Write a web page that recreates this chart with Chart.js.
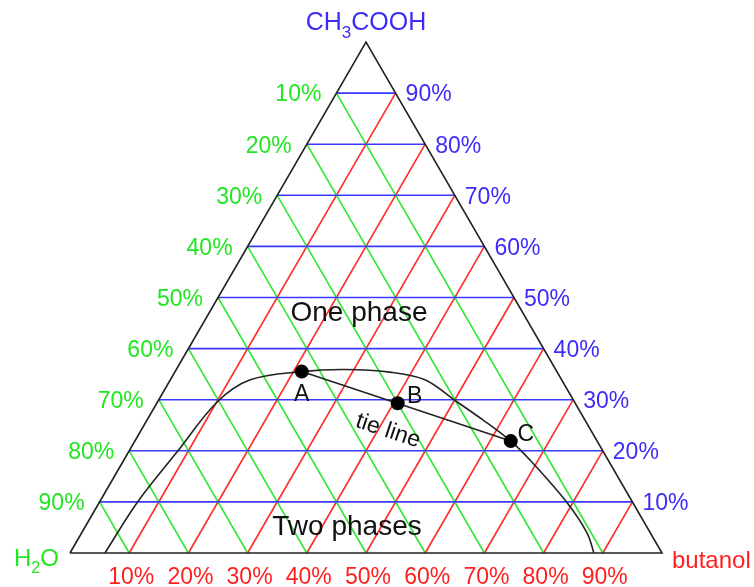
<!DOCTYPE html>
<html>
<head>
<meta charset="utf-8">
<title>Ternary diagram: water / acetic acid / butanol</title>
<script src="https://cdn.jsdelivr.net/npm/chart.js@4.4.1/dist/chart.umd.min.js"></script>
<style>
  html, body { margin: 0; padding: 0; background: #ffffff; }
  #wrap { width: 754px; height: 587px; }
</style>
</head>
<body>
<div id="wrap"><canvas id="chart" width="754" height="587"></canvas></div>
<script>
// Grid levels (percent) for each of the three components
const gridPercents = [10, 20, 30, 40, 50, 60, 70, 80, 90];
const acidTickLabels = ['10%', '20%', '30%', '40%', '50%', '60%', '70%', '80%', '90%'];
const waterTickLabels = ['10%', '20%', '30%', '40%', '50%', '60%', '70%', '80%', '90%'];
const butanolTickLabels = ['10%', '20%', '30%', '40%', '50%', '60%', '70%', '80%', '90%'];

// Binodal (solubility) curve: acetic acid % and butanol % (water is the rest)
const binodalAcid    = [0,   9.8, 19.8, 29.6, 33.9, 35.5, 35.9, 35.4, 33.9, 29.8, 26.0, 21.9, 18.2, 9.8, 3.9, 0];
const binodalButanol = [5.9, 6.4,  8.2, 10.1, 13.5, 21.4, 28.5, 36.3, 43.0, 50.2, 56.8, 63.5, 68.6, 79.1, 85.4, 88.5];

// Tie line points A, B, C
const tieNames   = ['A', 'B', 'C'];
const tieAcid    = [35.5, 29.3, 21.9];
const tieButanol = [21.4, 40.7, 63.5];

const BLUE = '#3d2cf5';
const GREEN = '#22e622';
const RED = '#ff1f1f';
const LINE_BLUE = '#3a3aff';
const LINE_GREEN = '#33e633';
const LINE_RED = '#ff2a2a';

const H = Math.sqrt(3) / 2;
// ternary composition (acid %, butanol %) -> plane coordinates
function toXY(acid, butanol) {
  return { x: (butanol + acid / 2) / 100, y: (acid / 100) * H };
}

function segment(p, q, color, order) {
  return {
    data: [p, q], showLine: true, borderColor: color, borderWidth: 1.6,
    pointRadius: 0, fill: false, clip: false, order: order
  };
}

const datasets = [];

// Tie line points
datasets.push({
  data: tieAcid.map((a, i) => toXY(a, tieButanol[i])),
  showLine: false, pointRadius: 7, pointBackgroundColor: '#000', pointBorderColor: '#000',
  pointBorderWidth: 0, clip: false, order: 0
});
// Tie line
datasets.push({
  data: [toXY(tieAcid[0], tieButanol[0]), toXY(tieAcid[2], tieButanol[2])],
  showLine: true, borderColor: '#222', borderWidth: 1.6, pointRadius: 0, clip: false, order: 1
});
// Binodal curve
datasets.push({
  data: binodalAcid.map((a, i) => toXY(a, binodalButanol[i])),
  showLine: true, borderColor: '#222', borderWidth: 1.6, pointRadius: 0,
  tension: 0.35, clip: false, order: 2
});
// Triangle outline
datasets.push({
  data: [toXY(0, 0), toXY(0, 100), toXY(100, 0), toXY(0, 0)],
  showLine: true, borderColor: '#222', borderWidth: 1.6, pointRadius: 0, clip: false, order: 3
});
// Constant acetic acid (horizontal, blue)
gridPercents.forEach(p => {
  datasets.push(segment(toXY(p, 0), toXY(p, 100 - p), LINE_BLUE, 4));
});
// Constant water (parallel to right side, green)
gridPercents.forEach(p => {
  datasets.push(segment(toXY(100 - p, 0), toXY(0, 100 - p), LINE_GREEN, 5));
});
// Constant butanol (parallel to left side, red)
gridPercents.forEach(p => {
  datasets.push(segment(toXY(0, p), toXY(100 - p, p), LINE_RED, 6));
});

const FONT = '"Liberation Sans", Arial, sans-serif';

function drawSub(ctx, parts, x, y, size, color, align) {
  // parts: [[text, isSubscript], ...]
  ctx.save();
  ctx.fillStyle = color;
  ctx.textBaseline = 'alphabetic';
  ctx.textAlign = 'left';
  let total = 0;
  parts.forEach(([t, sub]) => {
    ctx.font = (sub ? Math.round(size * 0.68) : size) + 'px ' + FONT;
    total += ctx.measureText(t).width;
  });
  let cx = align === 'center' ? x - total / 2 : (align === 'right' ? x - total : x);
  parts.forEach(([t, sub]) => {
    ctx.font = (sub ? Math.round(size * 0.68) : size) + 'px ' + FONT;
    ctx.fillText(t, cx, sub ? y + size * 0.3 : y);
    cx += ctx.measureText(t).width;
  });
  ctx.restore();
}

const labelsPlugin = {
  id: 'ternaryLabels',
  afterDatasetsDraw(chart) {
    const ctx = chart.ctx;
    const sx = chart.scales.x, sy = chart.scales.y;
    const px = (pt) => ({ x: sx.getPixelForValue(pt.x), y: sy.getPixelForValue(pt.y) });
    ctx.save();
    ctx.textBaseline = 'middle';
    ctx.font = '23px ' + FONT;

    // water ticks on the left side
    ctx.fillStyle = GREEN;
    ctx.textAlign = 'right';
    gridPercents.forEach((p, i) => {
      const q = px(toXY(100 - p, 0));
      ctx.fillText(waterTickLabels[i], q.x - 15, q.y + 2);
    });
    // acetic acid ticks on the right side
    ctx.fillStyle = BLUE;
    ctx.textAlign = 'left';
    gridPercents.forEach((p, i) => {
      const q = px(toXY(p, 100 - p));
      ctx.fillText(acidTickLabels[i], q.x + 10, q.y + 2);
    });
    // butanol ticks along the base
    ctx.fillStyle = RED;
    ctx.textAlign = 'center';
    gridPercents.forEach((p, i) => {
      const q = px(toXY(0, p));
      ctx.fillText(butanolTickLabels[i], q.x + 2, q.y + 25);
    });

    // corner names
    const top = px(toXY(100, 0));
    drawSub(ctx, [['CH', false], ['3', true], ['COOH', false]], top.x, top.y - 12, 25, BLUE, 'center');
    const left = px(toXY(0, 0));
    drawSub(ctx, [['H', false], ['2', true], ['O', false]], left.x - 56, left.y + 13, 24, GREEN, 'left');
    const right = px(toXY(0, 100));
    ctx.fillStyle = RED;
    ctx.textAlign = 'left';
    ctx.font = '24px ' + FONT;
    ctx.fillText('butanol', right.x + 10, right.y + 8);

    // region names
    ctx.fillStyle = '#111';
    ctx.textAlign = 'center';
    ctx.font = '28px ' + FONT;
    ctx.fillText('One phase', 359, 313);
    ctx.fillText('Two phases', 347, 527);

    // tie point names
    ctx.font = '23px ' + FONT;
    const offs = [[0, 23], [17, -7], [15, -6]];
    tieNames.forEach((n, i) => {
      const q = px(toXY(tieAcid[i], tieButanol[i]));
      ctx.fillText(n, q.x + offs[i][0], q.y + offs[i][1]);
    });

    // tie line caption, rotated along the line
    const a = px(toXY(tieAcid[0], tieButanol[0]));
    const c = px(toXY(tieAcid[2], tieButanol[2]));
    const ang = Math.atan2(c.y - a.y, c.x - a.x);
    ctx.save();
    ctx.translate(388, 431);
    ctx.rotate(ang);
    ctx.font = '23px ' + FONT;
    ctx.fillText('tie line', 0, 0);
    ctx.restore();

    ctx.restore();
  }
};

const whiteBg = {
  id: 'whiteBg',
  beforeDraw(chart) {
    const ctx = chart.ctx;
    ctx.save();
    ctx.fillStyle = '#ffffff';
    ctx.fillRect(0, 0, chart.width, chart.height);
    ctx.restore();
  }
};

new Chart(document.getElementById('chart'), {
  type: 'scatter',
  data: { datasets: datasets },
  options: {
    responsive: false,
    animation: false,
    events: [],
    layout: { padding: { left: 70, right: 92, top: 42, bottom: 34 } },
    scales: {
      x: { type: 'linear', min: 0, max: 1, display: false },
      y: { type: 'linear', min: 0, max: H, display: false }
    },
    plugins: { legend: { display: false }, tooltip: { enabled: false } }
  },
  plugins: [whiteBg, labelsPlugin]
});
</script>
</body>
</html>
